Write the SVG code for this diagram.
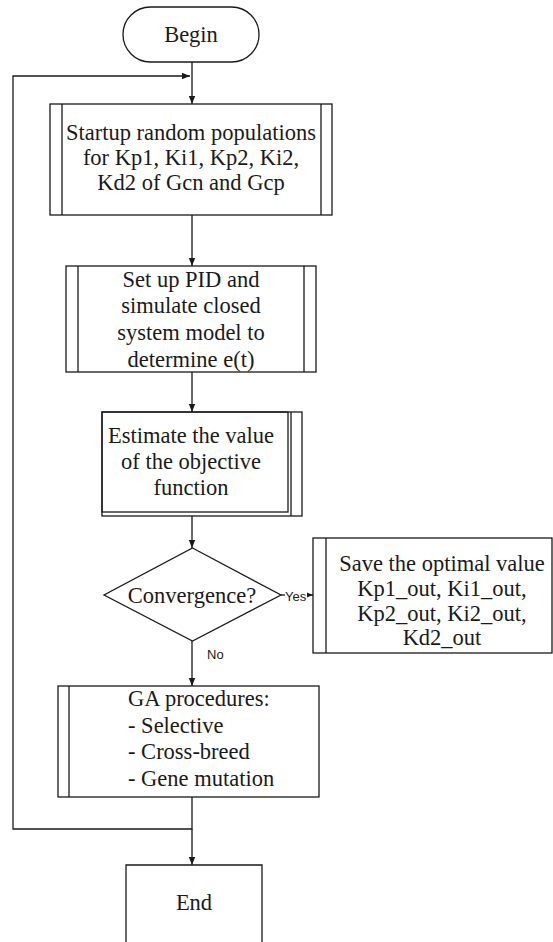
<svg xmlns="http://www.w3.org/2000/svg" width="553" height="942" viewBox="0 0 553 942">
<defs>
<marker id="ah" viewBox="0 0 10 10" refX="10" refY="5" markerWidth="8" markerHeight="8" markerUnits="userSpaceOnUse" orient="auto">
<path d="M0,1 L10,5 L0,9 z" fill="#1a1a1a"/>
</marker>
<style>
.s{fill:none;stroke:#1a1a1a;stroke-width:1.3}
.b{fill:#fff;stroke:#1a1a1a;stroke-width:1.3}
.t{font-family:"Liberation Serif","Times New Roman",serif;font-size:22.5px;fill:#1a1a1a;text-anchor:middle}
.ts{font-family:"Liberation Serif","Times New Roman",serif;font-size:22.5px;fill:#1a1a1a;text-anchor:start}
.l{font-family:"Liberation Sans",Arial,sans-serif;font-size:13px;fill:#1a1a1a}
</style>
</defs>
<rect width="553" height="942" fill="#fff"/>
<g id="connectors">
<path class="s" d="M192,62 V104" marker-end="url(#ah)"/>
<path class="s" d="M192,797 V829 H13 V76 H190" marker-end="url(#ah)"/>
<path class="s" d="M192,215 V266" marker-end="url(#ah)"/>
<path class="s" d="M192,372 V412" marker-end="url(#ah)"/>
<path class="s" d="M192,516 V548" marker-end="url(#ah)"/>
<path class="s" d="M192,641 V686" marker-end="url(#ah)"/>
<path class="s" d="M192,829 V865" marker-end="url(#ah)"/>
<path class="s" d="M281,595 H313" marker-end="url(#ah)"/>
<rect x="285" y="589" width="22" height="12" fill="#fff"/>
<text class="l" x="285" y="601">Yes</text>
<text class="l" x="207" y="659">No</text>
</g>
<g id="begin">
<rect class="b" x="123" y="7" width="136" height="55" rx="27.5"/>
<text class="t" x="191" y="42">Begin</text>
</g>
<g id="startup">
<rect class="b" x="50" y="104" width="282" height="111"/>
<path class="s" d="M62,104 V215 M321,104 V215"/>
<text class="t" x="191" y="140">Startup random populations</text>
<text class="t" x="191" y="165">for Kp1, Ki1, Kp2, Ki2,</text>
<text class="t" x="191" y="190">Kd2 of Gcn and Gcp</text>
</g>
<g id="setup">
<rect class="b" x="66" y="266" width="250" height="106"/>
<path class="s" d="M78,266 V372 M304,266 V372"/>
<text class="t" x="191" y="287">Set up PID and</text>
<text class="t" x="191" y="313">simulate closed</text>
<text class="t" x="191" y="340">system model to</text>
<text class="t" x="191" y="367">determine e(t)</text>
</g>
<g id="estimate">
<rect class="b" x="102" y="412" width="200" height="104"/>
<rect class="s" x="102" y="412" width="186" height="100"/>
<path class="s" d="M291,412 V516"/>
<text class="t" x="191" y="443">Estimate the value</text>
<text class="t" x="191" y="469">of the objective</text>
<text class="t" x="191" y="495">function</text>
</g>
<g id="convergence">
<polygon class="b" points="192.5,548 281,595 192.5,641 104,595"/>
<text class="t" x="192" y="603">Convergence?</text>
</g>
<g id="save">
<rect class="b" x="313" y="538" width="239" height="115"/>
<path class="s" d="M326,538 V653"/>
<text class="t" x="442" y="571">Save the optimal value</text>
<text class="t" x="442" y="596">Kp1_out, Ki1_out,</text>
<text class="t" x="442" y="621">Kp2_out, Ki2_out,</text>
<text class="t" x="442" y="645">Kd2_out</text>
</g>
<g id="ga">
<rect class="b" x="58" y="686" width="261" height="111"/>
<path class="s" d="M69,686 V797"/>
<text class="ts" x="128" y="706">GA procedures:</text>
<text class="ts" x="128" y="733">- Selective</text>
<text class="ts" x="128" y="759">- Cross-breed</text>
<text class="ts" x="128" y="786">- Gene mutation</text>
</g>
<g id="end">
<path class="b" d="M126,943 V865 H262 V943"/>
<text class="t" x="194" y="910">End</text>
</g>
</svg>
